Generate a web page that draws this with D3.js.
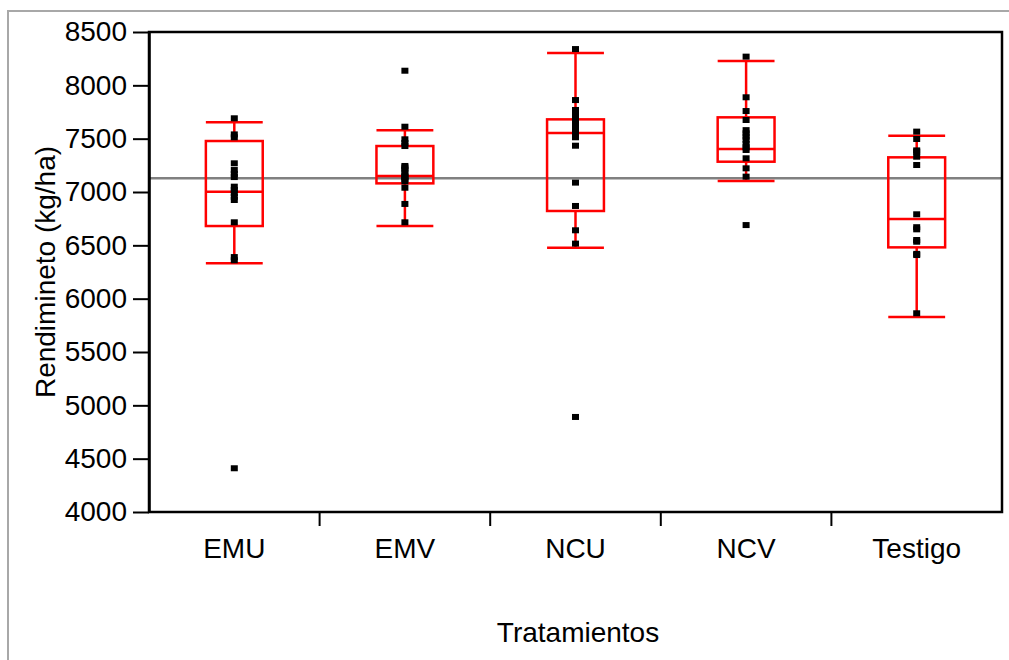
<!DOCTYPE html>
<html>
<head>
<meta charset="utf-8">
<script src="https://cdn.jsdelivr.net/npm/d3@7"></script>
<style>
  body { margin: 0; background: #fff; }
  svg text { font-family: "Liberation Sans", Arial, sans-serif; fill: #000; }
</style>
</head>
<body>
<svg id="chart" width="1009" height="660"></svg>
<script>
// categories and raw points
var categories = ['EMU', 'EMV', 'NCU', 'NCV', 'Testigo'];

var ptsEMU = [7691, 7540, 7513, 7269, 7206, 7170, 7140, 7050, 7019, 6990, 6955, 6925, 6716, 6390, 6360, 4410];
var ptsEMV = [8137, 7612, 7494, 7460, 7431, 7244, 7230, 7210, 7180, 7150, 7140, 7120, 7100, 7040, 6888, 6716];
var ptsNCU = [8340, 7862, 7769, 7740, 7720, 7680, 7640, 7600, 7560, 7513, 7434, 7088, 6869, 6641, 6516, 4891];
var ptsNCV = [8269, 7888, 7759, 7675, 7580, 7550, 7520, 7490, 7450, 7420, 7394, 7316, 7222, 7144, 6690];
var ptsTestigo = [7566, 7497, 7390, 7378, 7331, 7253, 6791, 6670, 6650, 6550, 6534, 6420, 6409, 5863];

// box stats
var q1 = [6681, 7081, 6822, 7284, 6481];
var median = [7003, 7150, 7553, 7403, 6747];
var q3 = [7478, 7431, 7681, 7700, 7325];
var whiskLo = [6331, 6681, 6478, 7103, 5828];
var whiskHi = [7653, 7578, 8303, 8228, 7528];

var grandMean = 7128;
var yTicks = [4000, 4500, 5000, 5500, 6000, 6500, 7000, 7500, 8000, 8500];

var allPts = [ptsEMU, ptsEMV, ptsNCU, ptsNCV, ptsTestigo];

var svg = d3.select('#chart');
var L = 149, R = 1002, T = 32, B = 512;

var x = d3.scaleBand().domain(categories).range([L, R]).padding(0);
var y = d3.scaleLinear().domain([4000, 8500]).range([B, T]);

// outer gray border
svg.append('path')
	.attr('d', 'M8,670 L8,11 L1020,11')
	.attr('fill', 'none').attr('stroke', '#a8a8a8').attr('stroke-width', 2);

// mean line
svg.append('line')
	.attr('x1', L).attr('x2', R)
	.attr('y1', y(grandMean)).attr('y2', y(grandMean))
	.attr('stroke', '#808080').attr('stroke-width', 2.5);

// boxes
var bw = x.bandwidth() / 3;
var g = svg.append('g').attr('stroke', '#ff0000').attr('stroke-width', 2.5).attr('fill', 'none');
categories.forEach(function(c, i){
	var cx = x(c) + x.bandwidth() / 2;
	g.append('rect')
		.attr('x', cx - bw / 2).attr('width', bw)
		.attr('y', y(q3[i])).attr('height', y(q1[i]) - y(q3[i]));
	g.append('line').attr('x1', cx - bw / 2).attr('x2', cx + bw / 2)
		.attr('y1', y(median[i])).attr('y2', y(median[i]));
	g.append('line').attr('x1', cx).attr('x2', cx)
		.attr('y1', y(q3[i])).attr('y2', y(whiskHi[i]));
	g.append('line').attr('x1', cx).attr('x2', cx)
		.attr('y1', y(q1[i])).attr('y2', y(whiskLo[i]));
	g.append('line').attr('x1', cx - bw / 2).attr('x2', cx + bw / 2)
		.attr('y1', y(whiskHi[i])).attr('y2', y(whiskHi[i]));
	g.append('line').attr('x1', cx - bw / 2).attr('x2', cx + bw / 2)
		.attr('y1', y(whiskLo[i])).attr('y2', y(whiskLo[i]));
});

// points
categories.forEach(function(c, i){
	var cx = x(c) + x.bandwidth() / 2;
	svg.append('g').selectAll('rect').data(allPts[i]).enter().append('rect')
		.attr('x', cx - 3.5).attr('width', 7)
		.attr('y', function(d){ return y(d) - 3; }).attr('height', 6)
		.attr('fill', '#000');
});

// frame
svg.append('rect')
	.attr('x', L).attr('y', T).attr('width', R - L).attr('height', B - T)
	.attr('fill', 'none').attr('stroke', '#000').attr('stroke-width', 2.5);

// y axis
var yAxis = svg.append('g').attr('transform', 'translate(' + L + ',0)')
	.call(d3.axisLeft(y).tickValues(yTicks).tickSize(16).tickSizeOuter(0).tickPadding(6).tickFormat(d3.format('d')));
yAxis.select('.domain').attr('stroke-width', 2.5);
yAxis.selectAll('.tick line').attr('stroke-width', 2);
yAxis.selectAll('text').style('font-size', '28px');

// x axis: ticks at band edges
var edges = categories.slice(1).map(function(c){ return x(c); });
svg.append('g').selectAll('line').data(edges).enter().append('line')
	.attr('x1', function(d){ return d; }).attr('x2', function(d){ return d; })
	.attr('y1', B).attr('y2', B + 14)
	.attr('stroke', '#000').attr('stroke-width', 2);

svg.append('g').selectAll('text').data(categories).enter().append('text')
	.attr('x', function(d){ return x(d) + x.bandwidth() / 2; })
	.attr('y', 558)
	.attr('text-anchor', 'middle')
	.style('font-size', '28px')
	.text(function(d){ return d; });

// titles
svg.append('text')
	.attr('x', 578).attr('y', 642)
	.attr('text-anchor', 'middle').style('font-size', '28px')
	.text('Tratamientos');

svg.append('text')
	.attr('transform', 'translate(55,' + ((T + B) / 2) + ') rotate(-90)')
	.attr('text-anchor', 'middle').style('font-size', '28px')
	.text('Rendimineto (kg/ha)');
</script>
</body>
</html>
